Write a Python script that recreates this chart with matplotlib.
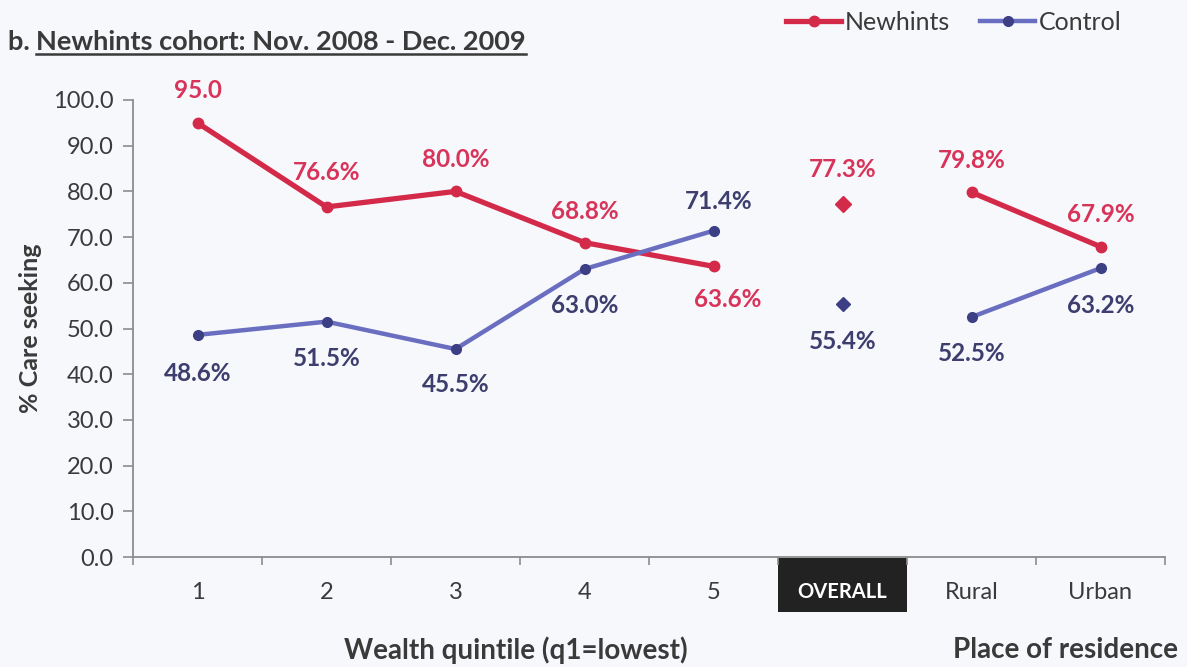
import matplotlib.pyplot as plt
from matplotlib.lines import Line2D
from matplotlib.patches import Rectangle

plt.rcParams['font.family'] = ['Lato', 'DejaVu Sans']

categories = ['1', '2', '3', '4', '5', 'OVERALL', 'Rural', 'Urban']
newhints = [95.0, 76.6, 80.0, 68.8, 63.6, 77.3, 79.8, 67.9]
control = [48.6, 51.5, 45.5, 63.0, 71.4, 55.4, 52.5, 63.2]
newhints_labels = ['95.0', '76.6%', '80.0%', '68.8%', '63.6%', '77.3%', '79.8%', '67.9%']
control_labels = ['48.6%', '51.5%', '45.5%', '63.0%', '71.4%', '55.4%', '52.5%', '63.2%']

# label offsets in pixels (dx, dy)
newhints_off = [(0, 32), (0, 34), (0, 32), (0, 31), (14, -33), (0, 34), (0, 32), (0, 32)]
control_off = [(0, -39), (0, -37), (0, -35), (0, -36), (5, 29), (0, -38), (0, -36), (0, -37)]

red = '#d42a4a'
red_txt = '#d8345a'
blue_line = '#6a6ec0'
blue_mk = '#3d3f85'
blue_txt = '#3d3e6e'
grey = '#8c8c8c'
txt = '#3a3a3a'
bg = '#f7f8fc'

W, H = 1187, 667
fig = plt.figure(figsize=(W / 100, H / 100), dpi=100, facecolor=bg)
ax = fig.add_axes([133 / W, 1 - 557 / H, 1032 / W, 457 / H])
ax.set_facecolor(bg)

x = list(range(len(categories)))

# quintiles
ax.plot(x[:5], newhints[:5], color=red, lw=3.8, marker='o', ms=7.5, zorder=3, clip_on=False)
ax.plot(x[:5], control[:5], color=blue_line, lw=3.2, marker='o', ms=7, mfc=blue_mk, mec=blue_mk,
        zorder=3, clip_on=False)
# overall
ax.plot(x[5], newhints[5], color=red, marker='D', ms=8, ls='none', zorder=3)
ax.plot(x[5], control[5], color=blue_mk, marker='D', ms=7, ls='none', zorder=3)
# place of residence
ax.plot(x[6:], newhints[6:], color=red, lw=3.8, marker='o', ms=7.5, zorder=3)
ax.plot(x[6:], control[6:], color=blue_line, lw=3.2, marker='o', ms=7, mfc=blue_mk, mec=blue_mk, zorder=3)

for i in x:
    ax.annotate(newhints_labels[i], (x[i], newhints[i]), xytext=newhints_off[i],
                textcoords='offset pixels', ha='center', va='center',
                fontsize=17.5, fontweight='bold', color=red_txt, annotation_clip=False)
    ax.annotate(control_labels[i], (x[i], control[i]), xytext=control_off[i],
                textcoords='offset pixels', ha='center', va='center',
                fontsize=17.5, fontweight='bold', color=blue_txt, annotation_clip=False)

ax.set_xlim(-0.5, 7.5)
ax.set_ylim(0, 100)
ax.set_yticks(range(0, 101, 10))
ax.set_yticklabels(['%.1f' % v for v in range(0, 101, 10)])
ax.set_xticks(x)
ax.set_xticklabels(categories)
ax.set_xticks([v + 0.5 for v in range(-1, 8)], minor=True)

for s in ['top', 'right']:
    ax.spines[s].set_visible(False)
for s in ['left', 'bottom']:
    ax.spines[s].set_color(grey)
    ax.spines[s].set_linewidth(1.3)

ax.tick_params(axis='y', direction='out', length=7, width=1.2, color=grey,
               labelsize=17, labelcolor=txt, pad=7)
ax.tick_params(axis='x', which='major', length=0, labelsize=17, labelcolor=txt, pad=18)
ax.tick_params(axis='x', which='minor', direction='out', length=6, width=1.2, color=grey)

for lab in ax.get_xticklabels():
    if lab.get_text() == 'OVERALL':
        lab.set_color('white')
        lab.set_fontweight('bold')
        lab.set_fontsize(14.5)

# black box behind OVERALL
ax.add_patch(Rectangle((5 - 0.5, -0.003), 1.0, -0.118, transform=ax.get_xaxis_transform(),
                       facecolor='#222222', edgecolor='none', clip_on=False, zorder=0))

ax.set_ylabel('% Care seeking', fontsize=18, fontweight='bold', color=txt, labelpad=8)

fig.text(516 / W, 1 - 650 / H, 'Wealth quintile (q1=lowest)', ha='center', va='center',
         fontsize=20, fontweight='bold', color=txt)
fig.text(1178 / W, 1 - 650 / H, 'Place of residence', ha='right', va='center',
         fontsize=20, fontweight='bold', color=txt)

# title with underline
t1 = fig.text(8 / W, 1 - 50 / H, 'b. ', ha='left', va='baseline',
              fontsize=19.5, fontweight='bold', color=txt)
fig.canvas.draw()
r = fig.canvas.get_renderer()
bb = t1.get_window_extent(r)
t2 = fig.text(bb.x1 / W, 1 - 50 / H, 'Newhints cohort: Nov. 2008 - Dec. 2009', ha='left',
              va='baseline', fontsize=19.5, fontweight='bold', color=txt)
bb2 = t2.get_window_extent(r)
uy = 1 - 54 / H
fig.add_artist(Line2D([bb2.x0 / W, bb2.x1 / W], [uy, uy], color=txt, lw=1.8))

handles = [Line2D([], [], color=red, lw=3.8, marker='o', ms=7.5),
           Line2D([], [], color=blue_line, lw=3.2, marker='o', ms=7, mfc=blue_mk, mec=blue_mk)]
fig.legend(handles, ['Newhints', 'Control'], loc='center right', bbox_to_anchor=(1134 / W, 1 - 22 / H),
           ncol=2, frameon=False, fontsize=18, handlelength=2.2, handletextpad=0.15,
           columnspacing=1.2, labelcolor=txt, borderpad=0)

fig.savefig('out.png', dpi=100, facecolor=bg)
